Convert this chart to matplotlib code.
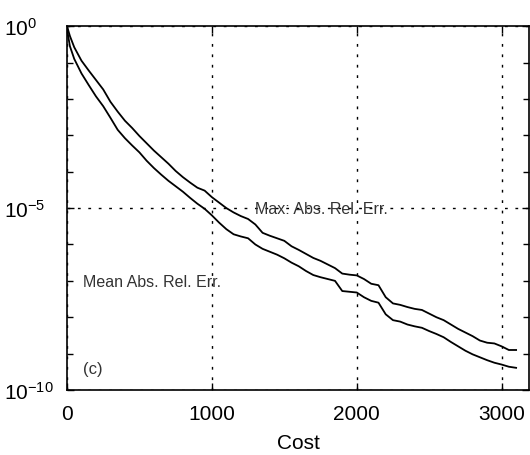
import numpy as np
import matplotlib.pyplot as plt
from matplotlib.ticker import FixedLocator, LogFormatterSciNotation, NullFormatter

plt.rcParams['font.family'] = ['Liberation Sans', 'DejaVu Sans']

cost = [0, 20] + list(range(50, 3101, 50))

# log10 of the errors
log_max_err = [0.0, -0.27, -0.58, -0.95, -1.22, -1.48, -1.74, -2.08, -2.35, -2.6, -2.8,
               -3.02, -3.22, -3.42, -3.6, -3.78, -3.98, -4.15, -4.3, -4.44, -4.52,
               -4.7, -4.85, -5.0, -5.12, -5.22, -5.3, -5.45, -5.68, -5.76, -5.83,
               -5.9, -6.05, -6.15, -6.26, -6.37, -6.45, -6.55, -6.65, -6.8, -6.83,
               -6.85, -6.95, -7.08, -7.12, -7.45, -7.62, -7.66, -7.72, -7.77, -7.8,
               -7.9, -8.0, -8.08, -8.2, -8.32, -8.42, -8.52, -8.64, -8.7, -8.72,
               -8.8, -8.9, -8.9]
log_mean_err = [-0.08, -0.55, -0.9, -1.3, -1.62, -1.93, -2.2, -2.52, -2.85, -3.08, -3.28,
                -3.47, -3.7, -3.9, -4.08, -4.25, -4.4, -4.55, -4.72, -4.88, -5.02,
                -5.2, -5.4, -5.58, -5.72, -5.78, -5.83, -6.0, -6.12, -6.2, -6.28,
                -6.38, -6.5, -6.6, -6.73, -6.84, -6.9, -6.95, -7.0, -7.28, -7.3,
                -7.32, -7.45, -7.55, -7.6, -7.92, -8.08, -8.12, -8.2, -8.25, -8.29,
                -8.38, -8.46, -8.55, -8.68, -8.8, -8.92, -9.02, -9.1, -9.18, -9.25,
                -9.3, -9.36, -9.39]

max_err = 10.0 ** np.array(log_max_err)
mean_err = 10.0 ** np.array(log_mean_err)

x_ticks = [0, 1000, 2000, 3000]
y_ticks = [1e-10, 1e-5, 1e0]

fig = plt.figure(figsize=(5.3, 4.56), dpi=100)
ax = fig.add_axes([0.1264, 0.1425, 0.872, 0.798])

ax.plot(cost, max_err, color='black', lw=1.3)
ax.plot(cost, mean_err, color='black', lw=1.3)

ax.set_yscale('log')
ax.set_xlim(0, 3190)
ax.set_ylim(1e-10, 1e0)

ax.xaxis.set_major_locator(FixedLocator(x_ticks))
ax.yaxis.set_major_locator(FixedLocator(y_ticks))
ax.yaxis.set_major_formatter(LogFormatterSciNotation())
ax.yaxis.set_minor_locator(FixedLocator(10.0 ** np.arange(-10, 1)))
ax.yaxis.set_minor_formatter(NullFormatter())

ax.grid(True, which='major', color='black', linestyle=(0, (2, 5.5)), lw=1.0)

ax.tick_params(which='both', direction='in', top=True, right=True, width=1)
ax.tick_params(which='major', length=5)
ax.tick_params(which='minor', length=4)
ax.tick_params(axis='x', labelsize=15, pad=10)
ax.tick_params(axis='y', labelsize=15, pad=45)
for lbl in ax.get_yticklabels():
    lbl.set_horizontalalignment('left')

for s in ax.spines.values():
    s.set_linewidth(1.2)

ax.set_xlabel('Cost', fontsize=15, labelpad=7)

ax.text(1297, 1e-5, 'Max: Abs. Rel. Err.', fontsize=11.5, va='center', ha='left', color='#333333')
ax.text(110, 10 ** -7.03, 'Mean Abs. Rel. Err.', fontsize=11.5, va='center', ha='left', color='#333333')
ax.text(110, 10 ** -9.4, '(c)', fontsize=12, va='center', ha='left', color='#333333')

fig.savefig('out.png', dpi=100)
